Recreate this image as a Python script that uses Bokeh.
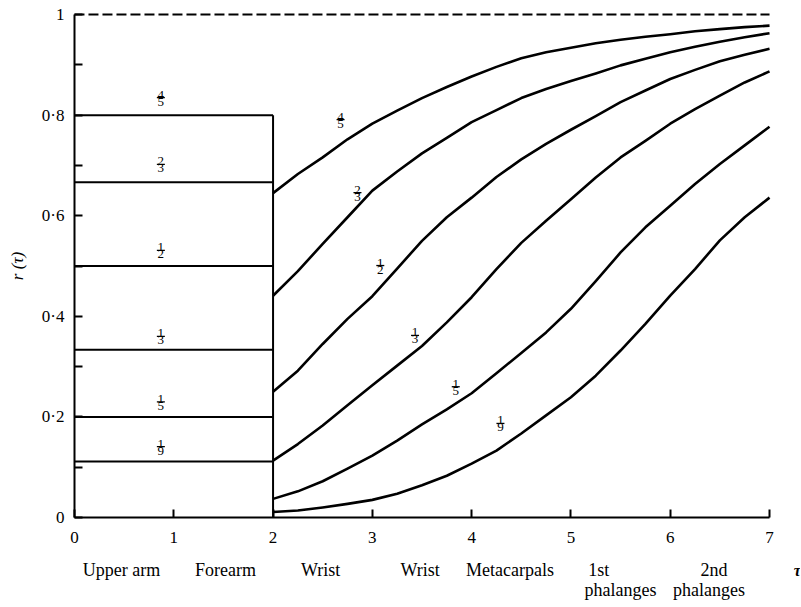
from bokeh.plotting import figure
from bokeh.models import Range1d, FixedTicker, CustomJSTickFormatter
from bokeh.core.properties import value
from bokeh.embed import file_html
from bokeh.resources import INLINE

# ---- data ----
tau = [2, 2.25, 2.5, 2.75, 3, 3.25, 3.5, 3.75, 4, 4.25, 4.5,
       4.75, 5, 5.25, 5.5, 5.75, 6, 6.25, 6.5, 6.75, 7]
r_4_5 = [0.645, 0.683, 0.716, 0.752, 0.783, 0.809, 0.834, 0.856, 0.877, 0.896, 0.913,
         0.925, 0.934, 0.943, 0.950, 0.956, 0.961, 0.967, 0.971, 0.975, 0.978]
r_2_3 = [0.441, 0.490, 0.544, 0.597, 0.650, 0.688, 0.724, 0.755, 0.786, 0.810, 0.834,
         0.852, 0.868, 0.883, 0.899, 0.912, 0.925, 0.936, 0.946, 0.955, 0.963]
r_1_2 = [0.250, 0.292, 0.345, 0.395, 0.440, 0.495, 0.550, 0.597, 0.636, 0.677, 0.712,
         0.743, 0.771, 0.798, 0.826, 0.849, 0.872, 0.890, 0.907, 0.920, 0.932]
r_1_3 = [0.113, 0.146, 0.183, 0.223, 0.263, 0.302, 0.341, 0.388, 0.438, 0.494, 0.546,
         0.590, 0.633, 0.676, 0.716, 0.749, 0.783, 0.812, 0.839, 0.865, 0.887]
r_1_5 = [0.037, 0.052, 0.072, 0.097, 0.123, 0.153, 0.185, 0.215, 0.247, 0.287, 0.327,
         0.368, 0.415, 0.470, 0.527, 0.577, 0.620, 0.663, 0.703, 0.740, 0.777]
r_1_9 = [0.011, 0.014, 0.020, 0.027, 0.035, 0.047, 0.064, 0.083, 0.107, 0.133, 0.167,
         0.203, 0.239, 0.282, 0.332, 0.385, 0.441, 0.494, 0.551, 0.597, 0.636]
curves = [r_4_5, r_2_3, r_1_2, r_1_3, r_1_5, r_1_9]

levels = [4/5, 2/3, 1/2, 1/3, 1/5, 1/9]
arm_span = [0, 2]          # upper arm + forearm
tau_max = 7

frac_num = ["4", "2", "1", "1", "1", "1"]
frac_den = ["5", "3", "2", "3", "5", "9"]
left_frac_x = [0.87, 0.87, 0.87, 0.87, 0.87, 0.87]
left_frac_y = [0.835, 0.702, 0.531, 0.360, 0.230, 0.141]
right_frac_x = [2.68, 2.85, 3.08, 3.43, 3.84, 4.29]
right_frac_y = [0.791, 0.646, 0.501, 0.362, 0.260, 0.187]

x_ticks = [0, 1, 2, 3, 4, 5, 6, 7]
y_major = [0, 0.2, 0.4, 0.6, 0.8, 1.0]
y_minor = [0.1, 0.3, 0.5, 0.7, 0.9]

region_line1 = ["Upper arm", "Forearm", "Wrist", "Wrist", "Metacarpals", "1st", "2nd"]
region_line1_x = [0.473, 1.52, 2.48, 3.48, 4.386, 5.28, 6.44]
region_line2 = ["phalanges", "phalanges"]
region_line2_x = [5.50, 6.39]
row1_y = -0.105
row2_y = -0.145
tau_label_x = 7.28

FONT = "Liberation Serif"

p = figure(width=800, height=606, output_backend="svg", toolbar_location=None,
           x_range=Range1d(-0.745, 7.312), y_range=Range1d(-0.177, 1.028),
           min_border_left=0, min_border_right=0, min_border_top=0, min_border_bottom=0)
p.outline_line_color = None
p.grid.visible = False
p.background_fill_color = "white"
p.border_fill_color = "white"

# axes (fixed at tau = 0 and r = 0)
xa = p.xaxis[0]
xa.fixed_location = 0
xa.ticker = FixedTicker(ticks=x_ticks)
xa.bounds = (0, tau_max)
xa.axis_line_width = 2
xa.major_tick_in = 8
xa.major_tick_out = 0
xa.major_tick_line_width = 2
xa.minor_tick_line_color = None
xa.major_label_standoff = 15
xa.major_label_text_font = FONT
xa.major_label_text_font_size = "17px"
xa.major_label_text_color = "black"

ya = p.yaxis[0]
ya.fixed_location = 0
ya.ticker = FixedTicker(ticks=y_major, minor_ticks=y_minor)
ya.bounds = (0, 1)
ya.axis_line_width = 2
ya.major_tick_in = 8
ya.major_tick_out = 0
ya.minor_tick_in = 8
ya.minor_tick_out = 0
ya.major_tick_line_width = 2
ya.minor_tick_line_width = 2
ya.major_label_standoff = 10
ya.major_label_text_font = FONT
ya.major_label_text_font_size = "17px"
ya.major_label_text_color = "black"
ya.formatter = CustomJSTickFormatter(code="""
if (Math.abs(tick) < 1e-9) return '0';
if (Math.abs(tick - 1) < 1e-9) return '1';
return tick.toFixed(1).replace('.', '\u00b7');
""")
ya.axis_label = "r (\u03c4)"
ya.axis_label_text_font = FONT
ya.axis_label_text_font_style = "italic"
ya.axis_label_text_font_size = "17px"
ya.axis_label_standoff = 12
ya.axis_label_text_color = "black"

# dashed asymptote r = 1
p.line(x=[0, tau_max], y=[1, 1], line_color="black", line_width=2, line_dash="10 4")

# constant levels over the arm
p.segment(x0=[arm_span[0]] * len(levels), x1=[arm_span[1]] * len(levels),
          y0=levels, y1=levels, line_color="black", line_width=2)
p.segment(x0=[arm_span[1]], x1=[arm_span[1]], y0=[0], y1=[levels[0]],
          line_color="black", line_width=2)

# curves
for r in curves:
    p.line(x=tau, y=r, line_color="black", line_width=2.6, line_join="round")

# stacked fraction labels
for xs, ys in ((left_frac_x, left_frac_y), (right_frac_x, right_frac_y)):
    p.text(x=xs, y=ys, text=frac_num, text_align="center", text_baseline="bottom",
           y_offset=1, text_font=value(FONT), text_font_size="13px", text_color="black")
    p.text(x=xs, y=ys, text=frac_den, text_align="center", text_baseline="top",
           y_offset=0, text_font=value(FONT), text_font_size="13px", text_color="black")
    p.scatter(x=xs, y=ys, marker="dash", size=8, line_color="black", line_width=1.3)

# region names under the tau axis
p.text(x=region_line1_x, y=[row1_y] * len(region_line1), text=region_line1,
       text_align="center", text_baseline="middle", text_font=value(FONT),
       text_font_size="18px", text_color="black")
p.text(x=region_line2_x, y=[row2_y] * len(region_line2), text=region_line2,
       text_align="center", text_baseline="middle", text_font=value(FONT),
       text_font_size="18px", text_color="black")
p.text(x=[tau_label_x], y=[row1_y], text=["\u03c4"], text_align="center",
       text_baseline="middle", text_font=value(FONT), text_font_style="bold italic",
       text_font_size="16px", text_color="black")

open("out.html", "w").write(file_html(p, INLINE))
